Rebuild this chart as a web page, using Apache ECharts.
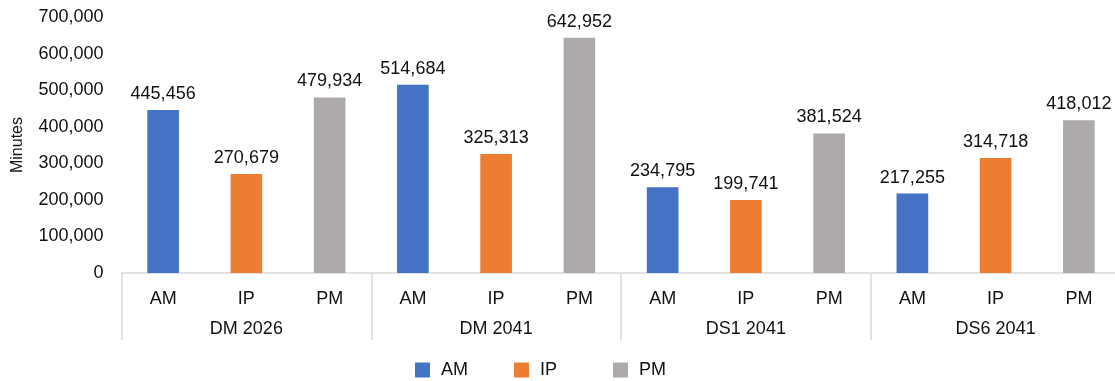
<!DOCTYPE html>
<html>
<head>
<meta charset="utf-8">
<script src="https://cdn.jsdelivr.net/npm/echarts@6/dist/echarts.min.js"></script>
<style>
  html, body { margin: 0; padding: 0; background: #fff; }
  #chart { width: 1115px; height: 381px; }
</style>
</head>
<body>
<div id="chart"></div>
<script>
// Scenario groups and the time periods within each
const scenarios = ['DM 2026', 'DM 2041', 'DS1 2041', 'DS6 2041'];
const periods = ['AM', 'IP', 'PM'];

// Minutes per period, one value per scenario
const amValues = [445456, 514684, 234795, 217255];
const ipValues = [270679, 325313, 199741, 314718];
const pmValues = [479934, 642952, 381524, 418012];

const yTicks = { min: 0, max: 700000, interval: 100000 };

const colors = { AM: '#4472C4', IP: '#ED7D31', PM: '#AEAAAA' };
const font = '"Liberation Sans", Arial, sans-serif';

// One slot per (scenario, period); each series fills only its own period slots
const slots = [];
scenarios.forEach(() => periods.forEach(p => slots.push(p)));
const byPeriod = { AM: amValues, IP: ipValues, PM: pmValues };

function seriesFor(period) {
  const data = [];
  scenarios.forEach((s, si) => {
    periods.forEach(p => data.push(p === period ? byPeriod[period][si] : null));
  });
  return {
    name: period,
    type: 'bar',
    xAxisIndex: 0,
    barWidth: '38%',
    barGap: '-100%',
    itemStyle: { color: colors[period] },
    label: {
      show: true,
      position: 'top',
      distance: 7,
      color: '#111',
      fontFamily: font,
      fontSize: 18,
      formatter: p => p.value.toLocaleString('en-US')
    },
    data: data
  };
}

// Legend entries sit in evenly spaced slots, one legend per period
const legendSlotWidth = 99;
const legends = periods.map((p, i) => ({
  top: 356,
  left: 410 + i * legendSlotWidth,
  itemWidth: 15,
  itemHeight: 15,
  itemGap: 0,
  icon: 'rect',
  textStyle: { fontFamily: font, fontSize: 18, color: '#111', padding: [0, 0, 0, 6] },
  data: [p]
}));

const chart = echarts.init(document.getElementById('chart'));
chart.setOption({
  animation: false,
  grid: { left: 121.5, width: 999, top: 17, height: 256, outerBoundsMode: 'none', containLabel: false },
  legend: legends,
  xAxis: [
    {
      type: 'category',
      data: slots,
      position: 'bottom',
      axisLine: { show: true, lineStyle: { color: '#D9D9D9', width: 1.5 } },
      axisTick: { show: false },
      axisLabel: { interval: 0, margin: 17, color: '#111', fontFamily: font, fontSize: 18 }
    },
    {
      type: 'category',
      data: scenarios,
      position: 'bottom',
      axisLine: { show: false },
      axisTick: { show: true, interval: 0, length: 67, lineStyle: { color: '#D9D9D9', width: 1.5 } },
      axisLabel: { interval: 0, margin: 47, color: '#111', fontFamily: font, fontSize: 18 }
    }
  ],
  yAxis: {
    type: 'value',
    min: yTicks.min,
    max: yTicks.max,
    interval: yTicks.interval,
    name: 'Minutes',
    nameLocation: 'middle',
    nameGap: 96,
    nameRotate: 90,
    nameTextStyle: { color: '#111', fontFamily: font, fontSize: 16 },
    axisLine: { show: false },
    axisTick: { show: false },
    splitLine: { show: false },
    axisLabel: {
      margin: 18,
      color: '#111',
      fontFamily: font,
      fontSize: 18,
      formatter: v => v.toLocaleString('en-US')
    }
  },
  series: periods.map(seriesFor)
});
</script>
</body>
</html>
